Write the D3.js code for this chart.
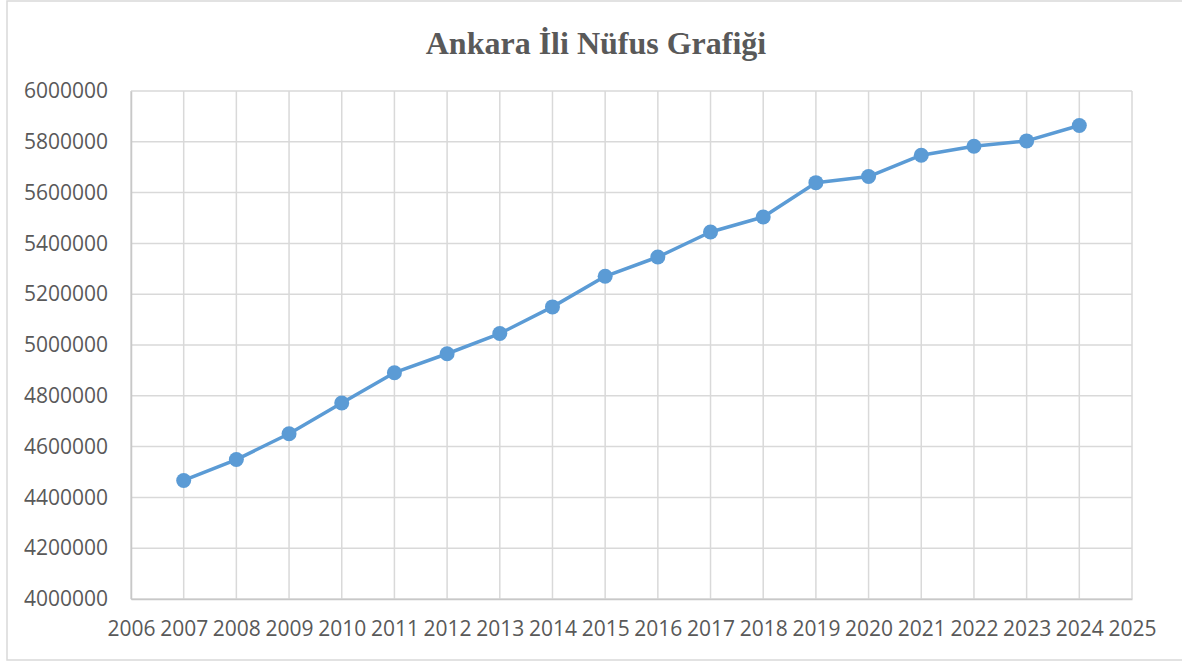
<!DOCTYPE html>
<html>
<head>
<meta charset="utf-8">
<script src="https://cdn.jsdelivr.net/npm/d3@7"></script>
<style>
  body { margin: 0; background: #fff; }
  svg { display: block; }
</style>
</head>
<body>
<svg id="chart" width="1182" height="663"></svg>
<script>
// Ankara population by year
const years = [2007, 2008, 2009, 2010, 2011, 2012, 2013, 2014, 2015, 2016, 2017, 2018, 2019, 2020, 2021, 2022, 2023, 2024];
const population = [4466756, 4548939, 4650802, 4771716, 4890893, 4965542, 5045083, 5150072, 5270575, 5346518, 5445026, 5503985, 5639076, 5663322, 5747325, 5782285, 5803482, 5864049];
const xTicks = d3.range(2006, 2026);
const yTicks = [4000000, 4200000, 4400000, 4600000, 4800000, 5000000, 5200000, 5400000, 5600000, 5800000, 6000000];
const title = "Ankara İli Nüfus Grafiği";

const svg = d3.select("#chart");
const margin = { top: 91, right: 50, bottom: 64, left: 131 };
const width = 1182 - margin.left - margin.right;
const height = 663 - margin.top - margin.bottom;

// outer chart border
svg.append("rect")
  .attr("x", 7).attr("y", 1)
  .attr("width", 1190).attr("height", 659)
  .attr("fill", "none")
  .attr("stroke", "#d9d9d9")
  .attr("stroke-width", 1.5);

svg.append("text")
  .attr("x", 596)
  .attr("y", 54)
  .attr("text-anchor", "middle")
  .style("font-family", "'Liberation Serif', 'Times New Roman', serif")
  .style("font-weight", "bold")
  .style("font-size", "32px")
  .attr("fill", "#595959")
  .text(title);

const g = svg.append("g")
  .attr("transform", `translate(${margin.left},${margin.top})`);

const x = d3.scaleLinear().domain([2006, 2025]).range([0, width]);
const y = d3.scaleLinear().domain([4000000, 6000000]).range([height, 0]);

// grid
g.append("g")
  .selectAll("line")
  .data(yTicks)
  .join("line")
  .attr("x1", 0).attr("x2", width)
  .attr("y1", d => y(d)).attr("y2", d => y(d))
  .attr("stroke", "#d9d9d9")
  .attr("stroke-width", 1.5);

g.append("g")
  .selectAll("line")
  .data(xTicks)
  .join("line")
  .attr("x1", d => x(d)).attr("x2", d => x(d))
  .attr("y1", 0).attr("y2", height)
  .attr("stroke", "#d9d9d9")
  .attr("stroke-width", 1.5);

// axes
const yAxis = g.append("g")
  .call(d3.axisLeft(y).tickValues(yTicks).tickFormat(d3.format("d")).tickSize(0).tickPadding(23));
yAxis.select(".domain").attr("stroke", "#c8c8c8").attr("stroke-width", 1.5);

const xAxis = g.append("g")
  .attr("transform", `translate(0,${height})`)
  .call(d3.axisBottom(x).tickValues(xTicks).tickFormat(d3.format("d")).tickSize(0).tickPadding(22));
xAxis.select(".domain").attr("stroke", "#c8c8c8").attr("stroke-width", 1.5);

svg.selectAll(".tick text")
  .style("font-family", "'Open Sans', 'Noto Sans', sans-serif")
  .style("font-size", "21px")
  .attr("fill", "#595959");

// line + markers
const line = d3.line()
  .x((d, i) => x(years[i]))
  .y(d => y(d));

g.append("path")
  .datum(population)
  .attr("fill", "none")
  .attr("stroke", "#5b9bd5")
  .attr("stroke-width", 3.5)
  .attr("stroke-linejoin", "round")
  .attr("d", line);

g.append("g")
  .selectAll("circle")
  .data(population)
  .join("circle")
  .attr("cx", (d, i) => x(years[i]))
  .attr("cy", d => y(d))
  .attr("r", 7.5)
  .attr("fill", "#5b9bd5");
</script>
</body>
</html>
